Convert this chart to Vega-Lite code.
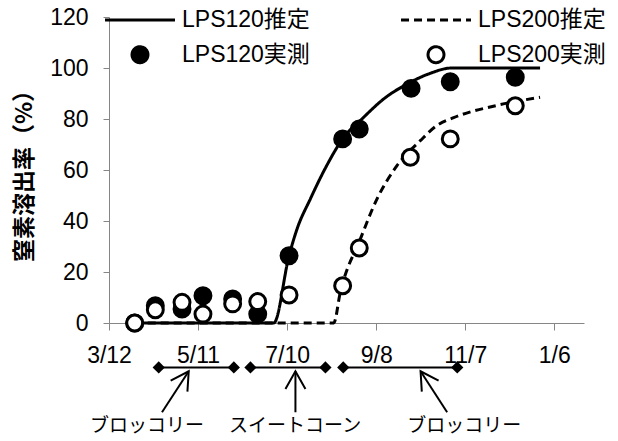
{
  "$schema": "https://vega.github.io/schema/vega-lite/v6.json",
  "autosize": {"type": "pad"},
  "padding": {"left": 13, "top": 6, "right": 5, "bottom": 0},
  "background": "white",
  "spacing": 0,
  "bounds": "flush",
  "config": {
    "view": {"stroke": null},
    "axis": {
      "domainColor": "#868686",
      "tickColor": "#868686",
      "labelColor": "black",
      "grid": false,
      "labelFont": "Liberation Sans",
      "labelFontSize": 23,
      "labelFlush": false
    },
    "legend": {
      "orient": "none", "direction": "horizontal", "legendX": 19.5, "legendY": -8.8, "columns": 2, "title": null,
      "padding": 0, "rowPadding": 8, "columnPadding": 84,
      "labelFont": "Liberation Sans, Noto Sans CJK JP", "labelFontSize": 23, "labelColor": "black",
      "labelOffset": 30.5, "labelLimit": 300, "symbolSize": 254,
      "symbolStrokeColor": "black"
    }
  },
  "vconcat": [
    {
      "width": 475,
      "height": 306,
      "layer": [
        {
          "data": {
            "values": [
              {"series": "LPS120推定", "day": 17.3, "value": 0},
              {"series": "LPS120推定", "day": 111, "value": 0},
              {"series": "LPS120推定", "day": 121.3, "value": 26.4},
              {"series": "LPS120推定", "day": 126.7, "value": 36.9},
              {"series": "LPS120推定", "day": 135.6, "value": 48.6},
              {"series": "LPS120推定", "day": 146, "value": 61},
              {"series": "LPS120推定", "day": 157.4, "value": 72.2},
              {"series": "LPS120推定", "day": 171.6, "value": 80.7},
              {"series": "LPS120推定", "day": 186, "value": 88.3},
              {"series": "LPS120推定", "day": 200.8, "value": 93.7},
              {"series": "LPS120推定", "day": 215, "value": 97.6},
              {"series": "LPS120推定", "day": 231, "value": 100},
              {"series": "LPS120推定", "day": 290.4, "value": 100},
              {"series": "LPS200推定", "day": 17.3, "value": 0},
              {"series": "LPS200推定", "day": 151.4, "value": 0},
              {"series": "LPS200推定", "day": 155.8, "value": 12},
              {"series": "LPS200推定", "day": 169.3, "value": 32.9},
              {"series": "LPS200推定", "day": 180.5, "value": 48.6},
              {"series": "LPS200推定", "day": 194, "value": 61.7},
              {"series": "LPS200推定", "day": 209.7, "value": 71.5},
              {"series": "LPS200推定", "day": 221, "value": 77.5},
              {"series": "LPS200推定", "day": 232.2, "value": 80.5},
              {"series": "LPS200推定", "day": 263.4, "value": 85.6},
              {"series": "LPS200推定", "day": 290.4, "value": 88.5}
            ]
          },
          "mark": {"type": "line", "interpolate": "monotone"},
          "encoding": {
            "x": {
              "field": "day", "type": "quantitative",
              "scale": {"domain": [0, 320], "nice": false},
              "axis": {
                "values": [0, 60, 120, 180, 240, 300],
                "labelExpr": "['3/12','5/11','7/10','9/8','11/7','1/6'][round(datum.value/60)]",
                "tickSize": 7, "labelPadding": 14, "title": null
              }
            },
            "y": {
              "field": "value", "type": "quantitative",
              "scale": {"domain": [0, 120], "nice": false},
              "axis": {
                "values": [0, 20, 40, 60, 80, 100, 120],
                "tickSize": 6, "labelPadding": 15,
                "title": "窒素溶出率（%）",
                "titleFont": "Noto Sans CJK JP", "titleFontSize": 23, "titleFontWeight": "bold",
                "titleColor": "black", "titlePadding": 13
              }
            },
            "stroke": {
              "field": "series", "type": "nominal",
              "scale": {"domain": ["LPS120推定", "LPS200推定", "LPS120実測", "LPS200実測"], "range": ["black", "black", "black", "black"]}
            },
            "strokeDash": {
              "field": "series", "type": "nominal",
              "scale": {"domain": ["LPS120推定", "LPS200推定", "LPS120実測", "LPS200実測"], "range": [[1, 0], [8, 5], [1, 0], [1, 0]]}
            },
            "strokeWidth": {
              "field": "series", "type": "nominal",
              "scale": {"domain": ["LPS120推定", "LPS200推定", "LPS120実測", "LPS200実測"], "range": [3, 3, 1.7, 1.7]}
            }
          }
        },
        {
          "data": {
            "values": [
              {"series": "LPS120実測", "day": 17.3, "value": 0},
              {"series": "LPS120実測", "day": 31.2, "value": 6.8},
              {"series": "LPS120実測", "day": 49.2, "value": 5.5},
              {"series": "LPS120実測", "day": 63.3, "value": 10.7},
              {"series": "LPS120実測", "day": 83.3, "value": 9.4},
              {"series": "LPS120実測", "day": 100.2, "value": 3.5},
              {"series": "LPS120実測", "day": 121.3, "value": 26.4},
              {"series": "LPS120実測", "day": 157.4, "value": 72.2},
              {"series": "LPS120実測", "day": 168.6, "value": 76.1},
              {"series": "LPS120実測", "day": 203.5, "value": 92},
              {"series": "LPS120実測", "day": 229.9, "value": 94.6},
              {"series": "LPS120実測", "day": 273.7, "value": 96.4},
              {"series": "LPS200実測", "day": 17.3, "value": 0},
              {"series": "LPS200実測", "day": 31.2, "value": 5.2},
              {"series": "LPS200実測", "day": 49.2, "value": 8.1},
              {"series": "LPS200実測", "day": 63.3, "value": 3.5},
              {"series": "LPS200実測", "day": 83.3, "value": 7.5},
              {"series": "LPS200実測", "day": 100.2, "value": 8.4},
              {"series": "LPS200実測", "day": 121.3, "value": 11},
              {"series": "LPS200実測", "day": 157.4, "value": 14.6},
              {"series": "LPS200実測", "day": 168.6, "value": 29.4},
              {"series": "LPS200実測", "day": 203, "value": 65},
              {"series": "LPS200実測", "day": 229.9, "value": 72.2},
              {"series": "LPS200実測", "day": 273.7, "value": 85.2}
            ]
          },
          "mark": {"type": "point", "opacity": 1, "size": 254},
          "encoding": {
            "x": {"field": "day", "type": "quantitative"},
            "y": {"field": "value", "type": "quantitative"},
            "stroke": {
              "field": "series", "type": "nominal",
              "scale": {"domain": ["LPS120推定", "LPS200推定", "LPS120実測", "LPS200実測"], "range": ["black", "black", "black", "black"]}
            },
            "strokeWidth": {
              "field": "series", "type": "nominal",
              "scale": {"domain": ["LPS120推定", "LPS200推定", "LPS120実測", "LPS200実測"], "range": [3, 3, 1.7, 1.7]}
            },
            "shape": {
              "field": "series", "type": "nominal",
              "scale": {"domain": ["LPS120推定", "LPS200推定", "LPS120実測", "LPS200実測"], "range": ["M-4.39,0H4.39", "M-4.39,0H4.39", "circle", "circle"]}
            },
            "fill": {
              "field": "series", "type": "nominal",
              "scale": {"domain": ["LPS120推定", "LPS200推定", "LPS120実測", "LPS200実測"], "range": ["transparent", "transparent", "black", "white"]}
            }
          }
        }
      ]
    },
    {
      "width": 475,
      "height": 117,
      "data": {
        "values": [
          {"crop": "ブロッコリー", "start": 33.5, "end": 84.1, "arrowTip": 53.7, "arrowBase": 35.7, "labelAt": 25.6},
          {"crop": "スイートコーン", "start": 95.3, "end": 145.8, "arrowTip": 125.6, "arrowBase": 125.6, "labelAt": 125.4},
          {"crop": "ブロッコリー", "start": 157.8, "end": 234.6, "arrowTip": 209.9, "arrowBase": 227.8, "labelAt": 239.3}
        ]
      },
      "layer": [
        {
          "mark": {"type": "rule", "color": "black", "strokeWidth": 2},
          "encoding": {
            "x": {"field": "start", "type": "quantitative", "scale": {"domain": [0, 320], "nice": false}, "axis": null},
            "x2": {"field": "end"},
            "y": {"datum": 62, "type": "quantitative", "scale": {"domain": [0, 100], "nice": false}, "axis": null}
          }
        },
        {
          "transform": [{"fold": ["start", "end"], "as": ["edge", "at"]}],
          "mark": {"type": "point", "shape": "diamond", "filled": true, "color": "black", "opacity": 1, "size": 150},
          "encoding": {
            "x": {"field": "at", "type": "quantitative"},
            "y": {"datum": 62, "type": "quantitative"}
          }
        },
        {
          "mark": {"type": "rule", "color": "black", "strokeWidth": 2},
          "encoding": {
            "x": {"field": "arrowBase", "type": "quantitative"},
            "x2": {"field": "arrowTip"},
            "y": {"datum": 23.7, "type": "quantitative"},
            "y2": {"datum": 58.7}
          }
        },
        {
          "transform": [{"calculate": "atan2((datum.arrowTip - datum.arrowBase) * 475 / 320, 35 * 117 / 100) * 180 / PI", "as": "heading"}],
          "mark": {"type": "point", "shape": "M-1,1.77L0,0L1,1.77", "filled": false, "stroke": "black", "strokeWidth": 2, "opacity": 1, "size": 400},
          "encoding": {
            "x": {"field": "arrowTip", "type": "quantitative"},
            "y": {"datum": 58.7, "type": "quantitative"},
            "angle": {"field": "heading", "type": "quantitative", "scale": null}
          }
        },
        {
          "mark": {"type": "text", "font": "Noto Sans CJK JP", "fontSize": 19, "color": "black", "baseline": "middle", "align": "center"},
          "encoding": {
            "x": {"field": "labelAt", "type": "quantitative"},
            "y": {"datum": 11.7, "type": "quantitative"},
            "text": {"field": "crop"}
          }
        }
      ]
    }
  ]
}
